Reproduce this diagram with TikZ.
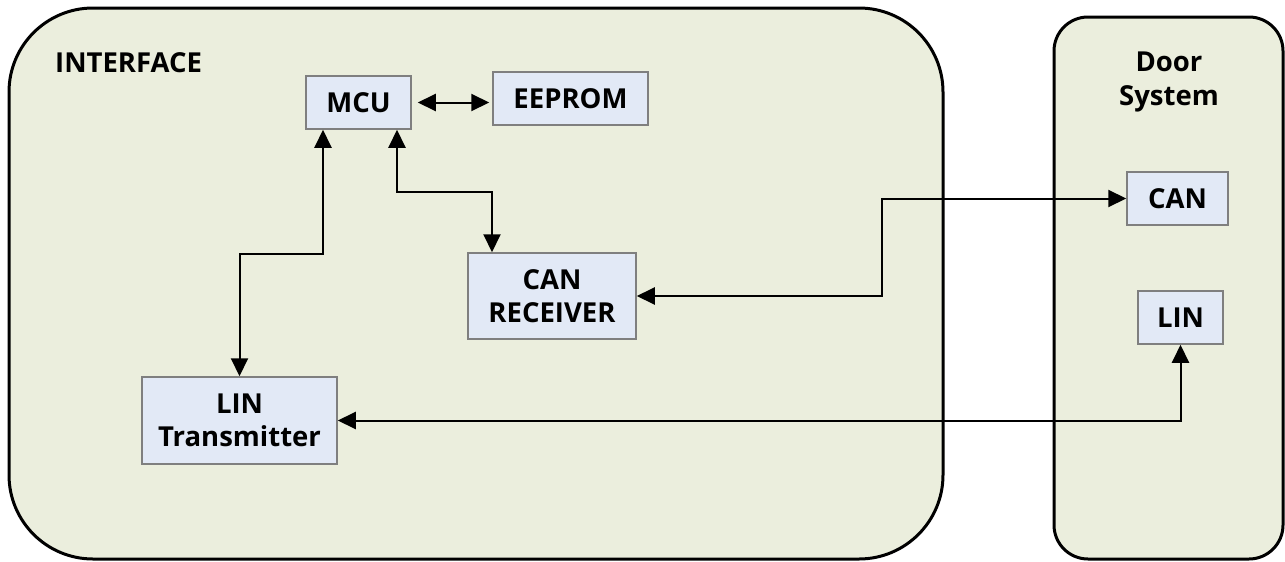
\documentclass[tikz,border=0pt]{standalone}
\usepackage{fontspec}
\setmainfont{Open Sans}
\usetikzlibrary{arrows.meta}
\definecolor{panelfill}{HTML}{EBEEDD}
\definecolor{boxfill}{HTML}{E2E9F6}
\definecolor{boxdraw}{HTML}{7F7F7F}
\tikzset{
  panel/.style={draw=black, line width=3pt, fill=panelfill},
  blk/.style={draw=boxdraw, line width=1.5pt, fill=boxfill, inner sep=0pt, align=center,
    font=\bfseries\fontsize{27.5}{33}\selectfont},
  lbl/.style={inner sep=0pt, align=center, font=\bfseries\fontsize{27.5}{34}\selectfont},
  arr/.style={line width=2pt, {Triangle[length=18pt,width=17pt]}-{Triangle[length=18pt,width=17pt]}},
}
\begin{document}
\begin{tikzpicture}[x=1pt,y=-1pt]
\useasboundingbox (0,0) rectangle (1285,562);
% panels
\draw[panel, rounded corners=84pt] (9,8) rectangle (943,559);
\draw[panel, rounded corners=34pt] (1054,17) rectangle (1283,559);
% labels
\node[lbl, anchor=base west] (iface) at (55,72) {INTERFACE};
\node[lbl, anchor=north] (door) at (1169,52) {Door\\System};
% blocks
\node[blk, minimum width=105pt, minimum height=53pt] (mcu) at (358.5,102.5) {MCU};
\node[blk, minimum width=155pt, minimum height=53pt] (eeprom) at (570.5,98.5) {EEPROM};
\node[blk, minimum width=168pt, minimum height=86pt] (canr) at (552,296) {CAN\\RECEIVER};
\node[blk, minimum width=195pt, minimum height=87pt] (lint) at (239.5,420.5) {LIN\\Transmitter};
\node[blk, minimum width=101pt, minimum height=53pt] (can) at (1177.5,198.5) {CAN};
\node[blk, minimum width=85pt, minimum height=53pt] (lin) at (1180.5,317.5) {LIN};
% connectors
\draw[arr, shorten <=6pt, shorten >=3pt] (mcu.east) -- (eeprom.west |- mcu.east);
\draw[arr] ([xshift=-35.5pt]mcu.south) -- ++(0,124) -| (lint.north);
\draw[arr] ([xshift=38.5pt]mcu.south) -- ++(0,62) -| ([xshift=-60pt]canr.north);
\coordinate (cbend) at (882,296);
\draw[arr] (canr.east) -- (cbend) |- (can.west);
\draw[arr] (lint.east) -| (lin.south);
\end{tikzpicture}
\end{document}
